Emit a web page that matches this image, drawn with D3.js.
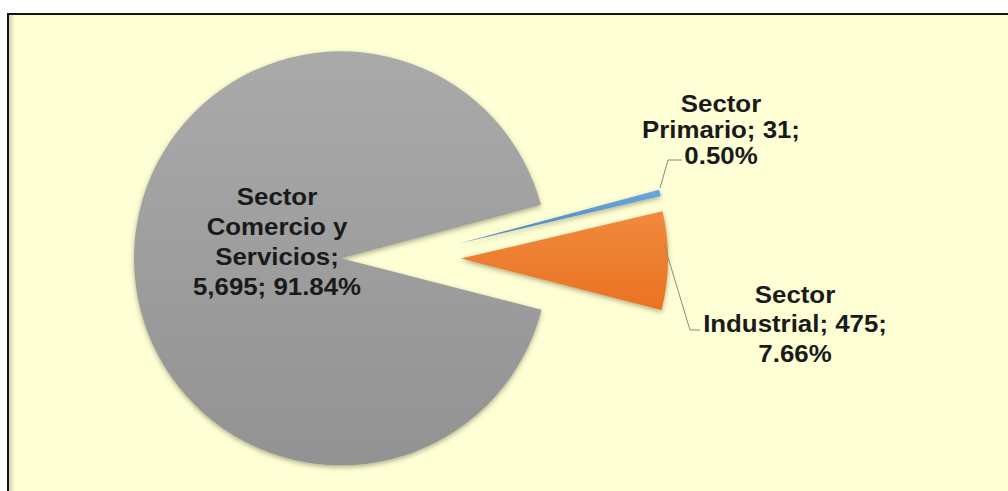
<!DOCTYPE html>
<html>
<head>
<meta charset="utf-8">
<script src="https://cdn.jsdelivr.net/npm/d3@7"></script>
<style>
  html, body { margin: 0; padding: 0; background: #ffffff; }
  svg { display: block; }
</style>
</head>
<body>
<svg id="chart" width="1008" height="491"></svg>
<script>
// ---- data ----
const categories = ["Sector Primario", "Sector Industrial", "Sector Comercio y Servicios"];
const values = [31, 475, 5695];
const valueLabels = ["31", "475", "5,695"];
const percentLabels = ["0.50%", "7.66%", "91.84%"];
const labelLines = [
  ["Sector", "Primario; 31;", "0.50%"],
  ["Sector", "Industrial; 475;", "7.66%"],
  ["Sector", "Comercio y", "Servicios;", "5,695; 91.84%"]
];

// ---- layout / style ----
const W = 1008, H = 491;
const cx = 401, cy = 258, R = 207, explode = 60;
const startDeg = 75;
const labelPos = [
  { x: 721, y: 112, dy: 26 },
  { x: 795, y: 303, dy: 29.5 },
  { x: 277, y: 205, dy: 30 }
];
const fills = ["url(#gBlue)", "url(#gOrange)", "url(#gGray)"];

const svg = d3.select("#chart");
const defs = svg.append("defs");

function lin(id, stops) {
  const g = defs.append("linearGradient").attr("id", id)
    .attr("x1", 0).attr("y1", 0).attr("x2", 0).attr("y2", 1);
  stops.forEach(s => g.append("stop").attr("offset", s[0]).attr("stop-color", s[1]));
}
lin("gGray", [[0, "#aaaaaa"], [1, "#929292"]]);
lin("gOrange", [[0, "#f18a3e"], [1, "#ea7222"]]);
lin("gBlue", [[0, "#6aa6dc"], [1, "#4a86c0"]]);
const lg = defs.append("linearGradient").attr("id", "gLeft")
  .attr("x1", 0).attr("y1", 0).attr("x2", 1).attr("y2", 0);
lg.append("stop").attr("offset", 0).attr("stop-color", "#000").attr("stop-opacity", 0.18);
lg.append("stop").attr("offset", 1).attr("stop-color", "#000").attr("stop-opacity", 0);

const f = defs.append("filter").attr("id", "shadow")
  .attr("x", "-20%").attr("y", "-20%").attr("width", "140%").attr("height", "140%");
f.append("feDropShadow").attr("dx", 0).attr("dy", 2).attr("stdDeviation", 2.5)
  .attr("flood-color", "#4a4a20").attr("flood-opacity", 0.45);

// background
svg.append("rect").attr("x", 8).attr("y", 14).attr("width", W).attr("height", H)
  .attr("fill", "#ffffd6");
svg.append("rect").attr("x", 9).attr("y", 15).attr("width", 6).attr("height", H)
  .attr("fill", "url(#gLeft)");
svg.append("path").attr("d", `M8,${H} L8,14 L${W},14`)
  .attr("fill", "none").attr("stroke", "#151515").attr("stroke-width", 2);

// pie
const pie = d3.pie().sort(null)
  .startAngle(startDeg * Math.PI / 180)
  .endAngle(startDeg * Math.PI / 180 + 2 * Math.PI);
const arcs = pie(values);
const arc = d3.arc().innerRadius(0).outerRadius(R);

const g = svg.append("g").attr("transform", `translate(${cx},${cy})`);
g.selectAll("path.slice").data(arcs).join("path")
  .attr("class", "slice")
  .attr("d", arc)
  .attr("fill", (d, i) => fills[i])
  .attr("filter", "url(#shadow)")
  .attr("transform", d => {
    const a = (d.startAngle + d.endAngle) / 2;
    return `translate(${explode * Math.sin(a)},${-explode * Math.cos(a)})`;
  });

// leader lines
const leaders = [
  [[682, 160], [668, 160], [660, 188]],
  [[700, 330], [690, 330], [664, 244]]
];
svg.selectAll("path.leader").data(leaders).join("path")
  .attr("class", "leader")
  .attr("d", d3.line())
  .attr("fill", "none").attr("stroke", "#8a8a7a").attr("stroke-width", 1);

// labels
const lab = svg.selectAll("g.lab").data(labelLines).join("g")
  .attr("class", "lab")
  .attr("transform", (d, i) => `translate(${labelPos[i].x},${labelPos[i].y}) scale(1.1,1)`);
lab.each(function (lines, i) {
  const t = d3.select(this).append("text")
    .attr("text-anchor", "middle")
    .attr("font-family", "'Liberation Sans', Arial, sans-serif")
    .attr("font-weight", "bold")
    .attr("font-size", 23.5)
    .attr("fill", "#1a1a1a");
  lines.forEach((s, k) => t.append("tspan").attr("x", 0).attr("y", k * labelPos[i].dy).text(s));
});
</script>
</body>
</html>
